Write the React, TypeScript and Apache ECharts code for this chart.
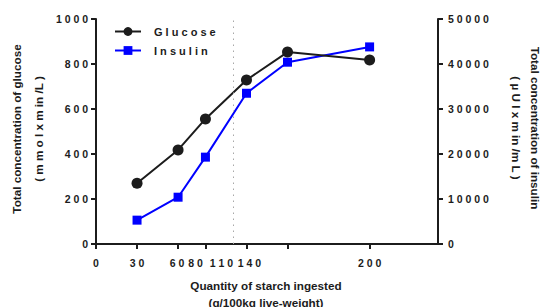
import React, { useEffect, useRef } from "react";
import * as echarts from "echarts";

// Data
const starch = [30, 60, 80, 110, 140, 200];
const glucose = [270, 418, 556, 729, 853, 818];
const insulin = [5300, 10400, 19300, 33500, 40400, 43800];
const xTickValues = [0, 30, 60, 80, 110, 140, 200];
const referenceLineX = 100;

const seriesNames = ["Glucose", "Insulin"];
const leftTitle = ["Total concentration of glucose", "( m m o l x m in /L )"];
const rightTitle = ["Total concentration of insulin", "( µ U I x m in /m L )"];
const xTitle = ["Quantity of starch ingested", "(g/100kg live-weight)"];

const spaced = (v: number | string) => String(v).split("").join(" ");

const FONT = "'Liberation Sans', Arial, Helvetica, sans-serif";
const INK = "#1c1c1c";

// label shifts (px, leftward) to mimic crowded labels in reference
const labelShift: Record<number, number> = { 60: 2, 80: 20, 110: 50, 140: 76 };

export default function App() {
  const ref = useRef<HTMLDivElement>(null);
  useEffect(() => {
    document.body.style.margin = "0";
    if (!ref.current) return;
    const chart = echarts.init(ref.current, null, { renderer: "svg" });
    const tickFont = { fontSize: 10.5, fontWeight: "bold" as const, fontFamily: FONT, color: INK };
    const rich: Record<string, any> = { s0: { ...tickFont } };
    Object.values(labelShift).forEach((p) => {
      rich["s" + p] = { ...tickFont, padding: [0, p, 0, 0] };
    });
    const titleStyle = (text: string, bold = true) => ({
      text,
      fontSize: 11.7,
      fontWeight: bold ? "bold" : "normal",
      fontFamily: FONT,
      fill: INK,
      align: "center",
      verticalAlign: "middle",
    });
    chart.setOption({
      animation: false,
      backgroundColor: "#ffffff",
      grid: { left: 96, right: 104, top: 19, bottom: 63, containLabel: false },
      legend: {
        orient: "vertical",
        left: 109,
        top: 21,
        itemWidth: 26,
        itemHeight: 11,
        itemGap: 8,
        data: seriesNames,
        formatter: (name: string) => spaced(name),
        textStyle: { ...tickFont, fontSize: 11, padding: [0, 0, 0, 8] },
      },
      xAxis: {
        type: "value",
        min: 0,
        max: 250,
        splitLine: { show: false },
        axisLine: { show: true, onZero: false, lineStyle: { color: INK, width: 2 } },
        axisTick: { show: true, customValues: xTickValues, length: 5, lineStyle: { color: INK, width: 2 } },
        axisLabel: {
          customValues: xTickValues,
          margin: 13,
          ...tickFont,
          rich,
          formatter: (v: number) => `{s${labelShift[v] || 0}|${spaced(v)}}`,
        },
      },
      yAxis: [
        {
          type: "value",
          min: 0,
          max: 1000,
          interval: 200,
          position: "left",
          splitLine: { show: false },
          axisLine: { show: true, lineStyle: { color: INK, width: 2 } },
          axisTick: { show: true, length: 5, lineStyle: { color: INK, width: 2 } },
          axisLabel: { ...tickFont, margin: 8, formatter: (v: number) => spaced(v) },
        },
        {
          type: "value",
          min: 0,
          max: 50000,
          interval: 10000,
          position: "right",
          splitLine: { show: false },
          axisLine: { show: true, lineStyle: { color: INK, width: 2 } },
          axisTick: { show: true, length: 5, lineStyle: { color: INK, width: 2 } },
          axisLabel: { ...tickFont, margin: 10, formatter: (v: number) => spaced(v) },
        },
      ],
      series: [
        {
          name: seriesNames[0],
          type: "line",
          yAxisIndex: 0,
          data: starch.map((x, i) => [x, glucose[i]]),
          symbol: "circle",
          symbolSize: 11,
          lineStyle: { color: INK, width: 2 },
          itemStyle: { color: INK },
          z: 3,
          markLine: {
            silent: true,
            symbol: "none",
            label: { show: false },
            lineStyle: { color: "#a8a8a8", width: 1, type: [1.5, 4.5] },
            data: [{ xAxis: referenceLineX }],
          },
        },
        {
          name: seriesNames[1],
          type: "line",
          yAxisIndex: 1,
          data: starch.map((x, i) => [x, insulin[i]]),
          symbol: "rect",
          symbolSize: 9,
          lineStyle: { color: "#0000ff", width: 2 },
          itemStyle: { color: "#0000ff" },
          z: 2,
        },
      ],
      graphic: [
        { type: "text", x: 16, y: 129, rotation: Math.PI / 2, style: titleStyle(leftTitle[0]) },
        { type: "text", x: 38, y: 129, rotation: Math.PI / 2, style: titleStyle(leftTitle[1]) },
        { type: "text", x: 535, y: 128, rotation: -Math.PI / 2, style: titleStyle(rightTitle[0]) },
        { type: "text", x: 516, y: 128, rotation: -Math.PI / 2, style: titleStyle(rightTitle[1]) },
        { type: "text", x: 266, y: 285, style: titleStyle(xTitle[0]) },
        { type: "text", x: 266, y: 302, style: titleStyle(xTitle[1]) },
      ],
    });
    return () => chart.dispose();
  }, []);
  return <div ref={ref} style={{ width: 542, height: 307 }} />;
}
